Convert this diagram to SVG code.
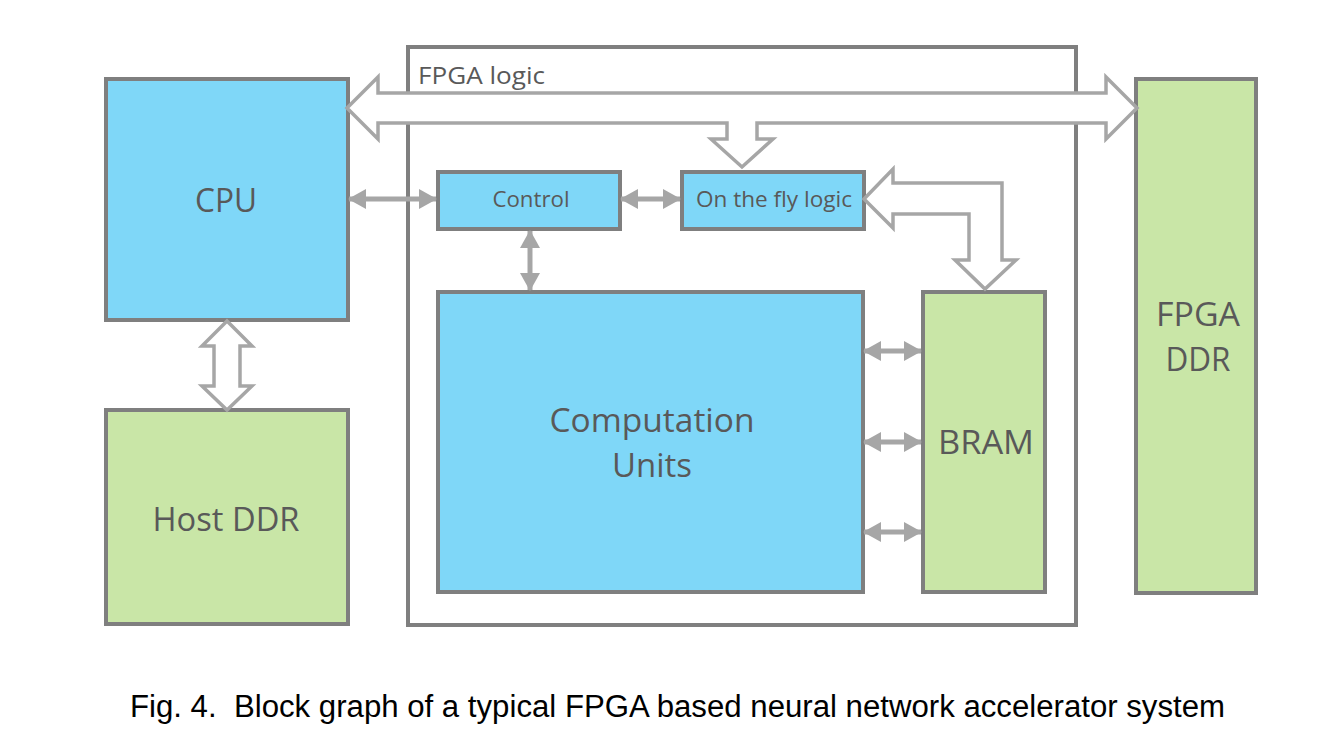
<svg xmlns="http://www.w3.org/2000/svg" width="1342" height="753" viewBox="0 0 1342 753">
<style>
.box{stroke:#7f7f7f;stroke-width:4}
.blue{fill:#7fd7f8}
.green{fill:#c9e6a7}
.lbl{font-family:"Open Sans","Noto Sans",sans-serif;fill:#595959;text-anchor:middle;dominant-baseline:central}
.big{font-size:32px}
.small{font-size:21.5px}
.hollow{fill:#ffffff;stroke:#a6a6a6;stroke-width:3.5;stroke-linejoin:miter}
.solid{stroke:#a6a6a6;stroke-width:5;fill:none;marker-start:url(#ah);marker-end:url(#ah)}
</style>
<defs>
<marker id="ah" viewBox="0 0 18 20" refX="17" refY="10" markerWidth="18" markerHeight="20" markerUnits="userSpaceOnUse" orient="auto-start-reverse">
<path d="M0,0 L18,10 L0,20 Z" fill="#a6a6a6"/>
</marker>
</defs>
<rect width="1342" height="753" fill="#ffffff"/>
<g id="fpga-logic">
<rect x="408" y="47" width="668" height="578" fill="#ffffff" class="box"/>
<text x="418" y="75" class="lbl" style="text-anchor:start;font-size:23px" textLength="127" lengthAdjust="spacingAndGlyphs">FPGA logic</text>
</g>
<g id="cpu">
<rect x="106" y="79" width="242" height="241" class="box blue"/>
<text x="226" y="199" class="lbl big" textLength="62" lengthAdjust="spacingAndGlyphs">CPU</text>
</g>
<g id="host-ddr">
<rect x="106" y="410" width="242" height="214" class="box green"/>
<text x="226" y="518" class="lbl big" textLength="147" lengthAdjust="spacingAndGlyphs">Host DDR</text>
</g>
<g id="fpga-ddr">
<rect x="1136" y="79" width="120" height="514" class="box green"/>
<text x="1198" y="313" class="lbl big" textLength="84" lengthAdjust="spacingAndGlyphs">FPGA</text>
<text x="1198" y="358" class="lbl big" textLength="65" lengthAdjust="spacingAndGlyphs">DDR</text>
</g>
<g id="control">
<rect x="438" y="172" width="182" height="57" class="box blue"/>
<text x="531" y="198" class="lbl small" textLength="77" lengthAdjust="spacingAndGlyphs">Control</text>
</g>
<g id="otf">
<rect x="682" y="172" width="182" height="57" class="box blue"/>
<text x="774" y="198" class="lbl small" textLength="156" lengthAdjust="spacingAndGlyphs">On the fly logic</text>
</g>
<g id="computation">
<rect x="438" y="292" width="425" height="300" class="box blue"/>
<text x="652" y="419" class="lbl big" textLength="205" lengthAdjust="spacingAndGlyphs">Computation</text>
<text x="652" y="464" class="lbl big" textLength="80" lengthAdjust="spacingAndGlyphs">Units</text>
</g>
<g id="bram">
<rect x="923" y="292" width="122" height="300" class="box green"/>
<text x="986" y="441" class="lbl big" textLength="96" lengthAdjust="spacingAndGlyphs">BRAM</text>
</g>
<g id="connectors">
<polygon class="hollow" points="347,108 378,77 378,93 1106,93 1106,77 1137,108 1106,139 1106,123 757,123 757,139 773,139 742,167 711,139 727,139 727,123 378,123 378,139"/>
<polygon class="hollow" points="864,199 893,169 893,183 1002,183 1002,260 1016,260 985,289 955,260 969,260 969,214 893,214 893,228"/>
<polygon class="hollow" points="227,321 252,346 240,346 240,386 252,386 227,410 202,386 214,386 214,346 202,346"/>
<line class="solid" x1="349" y1="199" x2="436" y2="199"/>
<line class="solid" x1="621" y1="199" x2="680" y2="199"/>
<line class="solid" x1="530" y1="231" x2="530" y2="290"/>
<line class="solid" x1="864" y1="351" x2="921" y2="351"/>
<line class="solid" x1="864" y1="442" x2="921" y2="442"/>
<line class="solid" x1="864" y1="532" x2="921" y2="532"/>
</g>
<text x="130" y="717" font-family="Liberation Sans, sans-serif" font-size="31" fill="#000000" xml:space="preserve" style="white-space:pre" textLength="1095" lengthAdjust="spacingAndGlyphs">Fig. 4.  Block graph of a typical FPGA based neural network accelerator system</text>
</svg>
